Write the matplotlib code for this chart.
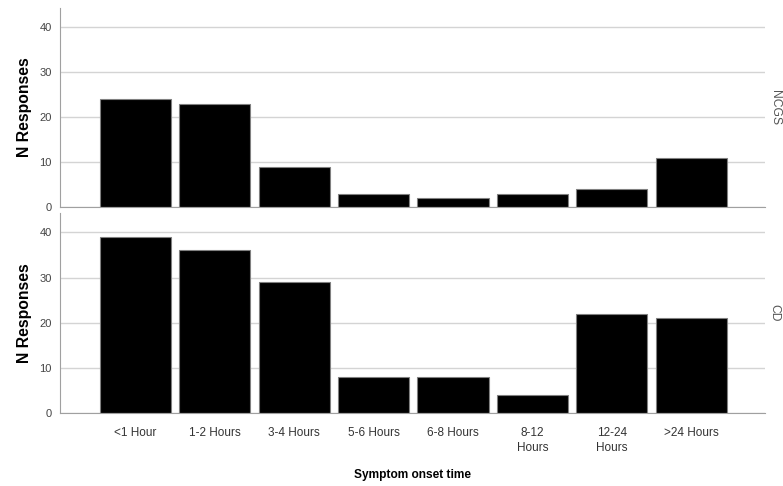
import numpy as np
import matplotlib.pyplot as plt

plt.rcParams['font.family'] = ['Liberation Sans', 'DejaVu Sans']

# onset time categories and counts per group
categories = ['<1 Hour', '1-2 Hours', '3-4 Hours', '5-6 Hours', '6-8 Hours',
              '8-12\nHours', '12-24\nHours', '>24 Hours']
ncgs_counts = [24, 23, 9, 3, 2, 3, 4, 11]
cd_counts = [39, 36, 29, 8, 8, 4, 22, 21]
groups = ['NCGS', 'CD']

fig = plt.figure(figsize=(7.83, 4.86), dpi=100)
ax_top = fig.add_axes([0.0766, 0.574, 0.9004, 0.4095])
ax_bot = fig.add_axes([0.0766, 0.1502, 0.9004, 0.4115])

x = np.arange(len(categories))
for ax, counts, name in zip([ax_top, ax_bot], [ncgs_counts, cd_counts], groups):
    ax.set_axisbelow(True)
    ax.yaxis.grid(True, color='#d4d4d4', linewidth=1)
    ax.bar(x, counts, width=0.895, color='black', edgecolor='#808080', linewidth=0.8)
    ax.set_xlim(-0.95, 7.93)
    ax.set_ylim(0, 44.3)
    ax.set_yticks([0, 10, 20, 30, 40])
    ax.tick_params(axis='y', length=0, labelsize=8, labelcolor='#444444', pad=6)
    ax.tick_params(axis='x', length=0)
    for side in ['top', 'right']:
        ax.spines[side].set_visible(False)
    ax.spines['left'].set_color('#a0a0a0')
    ax.spines['bottom'].set_color('#a0a0a0')
    ax.set_ylabel('N Responses', fontsize=11.3, fontweight='bold', labelpad=5)
    ax.text(1.005, 0.5, name, transform=ax.transAxes, rotation=-90,
            ha='left', va='center', fontsize=8.7, color='#555555')

ax_top.set_xticks(x)
ax_top.set_xticklabels([])
ax_bot.set_xticks(x)
ax_bot.set_xticklabels(categories, fontsize=8.5, color='#333333', linespacing=1.3)
ax_bot.tick_params(axis='x', pad=10)
ax_bot.set_xlabel('Symptom onset time', fontsize=8.6, fontweight='bold', labelpad=11)

fig.savefig('out.png', dpi=100)
